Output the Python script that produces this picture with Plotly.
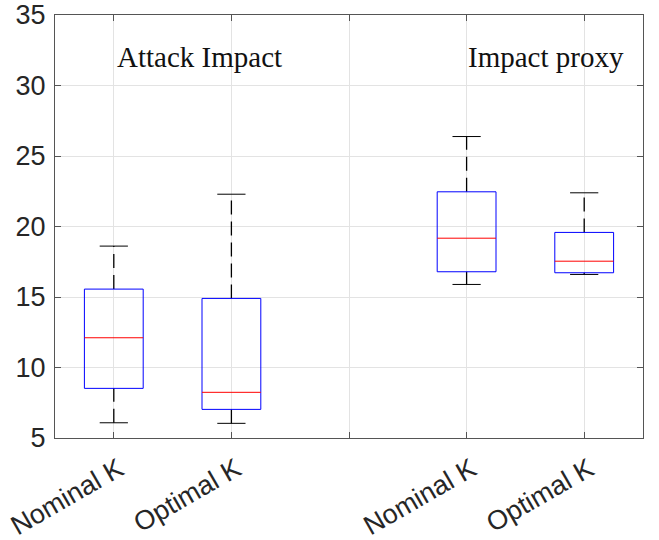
import plotly.graph_objects as go

# Data
categories = ["Nominal K", "Optimal K", "", "Nominal K", "Optimal K"]
positions = [1, 2, 4, 5]
lower_whisker = [6.08, 6.04, 15.89, 16.60]
q1 = [8.52, 7.03, 16.79, 16.72]
median = [12.11, 8.24, 19.17, 17.54]
q3 = [15.56, 14.90, 22.46, 19.58]
upper_whisker = [18.61, 22.29, 26.38, 22.39]
group_labels = ["Attack Impact", "Impact proxy"]

BOX_HALF = 0.25
CAP_HALF = 0.12

fig = go.Figure()

# Whiskers (dashed)
wx, wy = [], []
for p, lo, a, b, hi in zip(positions, lower_whisker, q1, q3, upper_whisker):
    wx += [p, p, None, p, p, None]
    wy += [b, hi, None, lo, a, None]
fig.add_trace(go.Scatter(x=wx, y=wy, mode="lines",
                         line=dict(color="#000000", width=1.3, dash="14px,7px"),
                         hoverinfo="skip", showlegend=False))

# Caps
cx, cy = [], []
for p, lo, hi in zip(positions, lower_whisker, upper_whisker):
    cx += [p - CAP_HALF, p + CAP_HALF, None, p - CAP_HALF, p + CAP_HALF, None]
    cy += [hi, hi, None, lo, lo, None]
fig.add_trace(go.Scatter(x=cx, y=cy, mode="lines",
                         line=dict(color="#000000", width=1),
                         hoverinfo="skip", showlegend=False))

# Boxes
bx, by = [], []
for p, a, b in zip(positions, q1, q3):
    bx += [p - BOX_HALF, p + BOX_HALF, p + BOX_HALF, p - BOX_HALF, p - BOX_HALF, None]
    by += [a, a, b, b, a, None]
fig.add_trace(go.Scatter(x=bx, y=by, mode="lines",
                         line=dict(color="#0000ff", width=1),
                         hoverinfo="skip", showlegend=False))

# Medians
mx, my = [], []
for p, m in zip(positions, median):
    mx += [p - BOX_HALF, p + BOX_HALF, None]
    my += [m, m, None]
fig.add_trace(go.Scatter(x=mx, y=my, mode="lines",
                         line=dict(color="#ff0000", width=1),
                         hoverinfo="skip", showlegend=False))

tickfont = dict(family="Liberation Sans, Arial, sans-serif", size=27, color="#262626")

fig.update_layout(
    width=659, height=540,
    margin=dict(l=55, r=16, t=15, b=102),
    plot_bgcolor="white", paper_bgcolor="white",
    showlegend=False,
    xaxis=dict(
        range=[0.5, 5.5], automargin=False,
        tickvals=[1, 2, 3, 4, 5], ticktext=categories,
        tickangle=-30, tickfont=tickfont, ticklabelstandoff=4, ticklabelshift=5,
        showgrid=True, gridcolor="#e3e3e3", gridwidth=1,
        zeroline=False,
        showline=True, linecolor="#555555", linewidth=1, mirror="ticks",
        ticks="inside", ticklen=6, tickcolor="#555555",
    ),
    yaxis=dict(
        range=[5, 35], automargin=False,
        tickvals=[5, 10, 15, 20, 25, 30, 35], tickfont=tickfont, ticklabelstandoff=3,
        showgrid=True, gridcolor="#e3e3e3", gridwidth=1,
        zeroline=False,
        showline=True, linecolor="#555555", linewidth=1, mirror="ticks",
        ticks="inside", ticklen=6, tickcolor="#555555",
    ),
    annotations=[
        dict(x=1.73, y=32.0, xref="x", yref="y", text=group_labels[0], showarrow=False,
             font=dict(family="Liberation Serif, DejaVu Serif, serif", size=29, color="#111111")),
        dict(x=4.675, y=32.0, xref="x", yref="y", text=group_labels[1], showarrow=False,
             font=dict(family="Liberation Serif, DejaVu Serif, serif", size=29, color="#111111")),
    ],
)

fig.write_html(
    "out.html",
    config={"displayModeBar": False},
    post_script="document.body.style.margin='0';document.body.style.overflow='hidden';",
)
